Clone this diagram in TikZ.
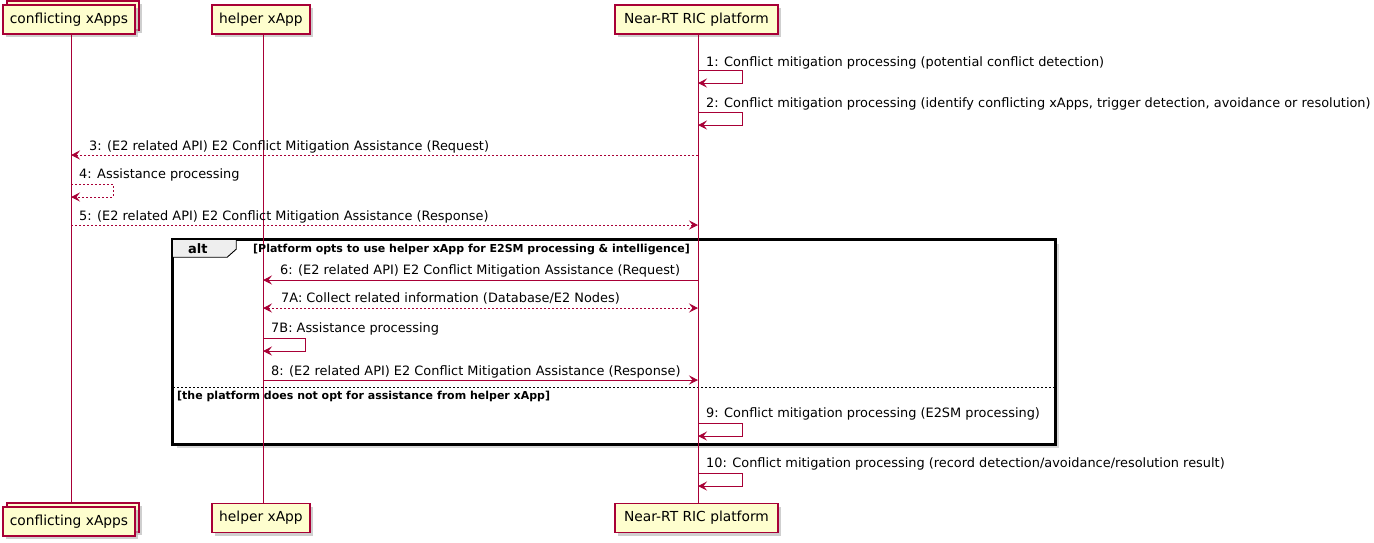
\documentclass[tikz,border=0pt]{standalone}
\usepackage{fontspec}
\setmainfont{DejaVu Sans}
\usetikzlibrary{arrows.meta,shadows}
\definecolor{plred}{HTML}{A80036}
\definecolor{plfill}{HTML}{FEFECE}
\definecolor{plshadow}{HTML}{BBBBBB}
\definecolor{altshadow}{HTML}{D9D9D9}
\definecolor{tabfill}{HTML}{EEEEEE}
\begin{document}
\begin{tikzpicture}[x=1pt,y=-1pt,
  part/.style={draw=plred, fill=plfill, line width=1.1pt, inner sep=0pt,
    minimum height=29pt, font=\fontsize{13.8}{16}\selectfont,
    drop shadow={shadow xshift=3pt, shadow yshift=-3pt, fill=plshadow, opacity=0.7}},
  life/.style={draw=plred, line width=0.8pt},
  msg/.style={draw=plred, line width=0.9pt, -{Stealth[length=9pt,width=9pt,inset=3.5pt]}},
  reply/.style={msg, dash pattern=on 2pt off 2pt},
  both/.style={reply, {Stealth[length=9pt,width=9pt,inset=3.5pt]}-{Stealth[length=9pt,width=9pt,inset=3.5pt]}},
  lbl/.style={anchor=base west, inner sep=0pt, font=\fontsize{12.9}{15}\selectfont},
  guard/.style={anchor=base west, inner sep=0pt, font=\bfseries\fontsize{11}{13}\selectfont},
]
\useasboundingbox (0,0) rectangle (1374,542);

% alt frame (drawn first so lifelines cross it)
\node[draw=black, line width=1.6pt, fill=white, minimum width=882pt, minimum height=204pt, inner sep=0pt,
  drop shadow={shadow xshift=4pt, shadow yshift=-4pt, fill=altshadow, opacity=1}] (alt) at (614,342) {};
\draw[line width=0.9pt, fill=tabfill] (alt.north west) -- ++(64,0) -- ++(0,10) -- ++(-9,8) -- ++(-55,0) -- cycle;
\draw[line width=1.6pt] (alt.north west) rectangle (alt.south east);
\node[anchor=base west, inner sep=0pt, font=\bfseries\fontsize{13}{15}\selectfont] (altlbl) at (188,253) {alt};
\coordinate (sepL) at (173,387); \coordinate (sepR) at (1055,387);
\draw[line width=0.6pt, dash pattern=on 2pt off 2pt] (sepL) -- (sepR);

% participants (top)
\node[part, minimum width=132pt] (cAtb) at (73,15.5) {};
\node[part, minimum width=132pt] (cAt) at (69,19.5) {conflicting xApps};
\node[part, minimum width=98pt] (hXt) at (261,19.5) {helper xApp};
\node[part, minimum width=163pt] (rCt) at (696.5,19.5) {Near-RT RIC platform};
% participants (bottom)
\node[part, minimum width=132pt] (cAbb) at (73,517.5) {};
\node[part, minimum width=132pt] (cAb) at (69,521.5) {conflicting xApps};
\node[part, minimum width=98pt] (hXb) at (261,518) {helper xApp};
\node[part, minimum width=163pt] (rCb) at (696.5,518) {Near-RT RIC platform};

% lifelines
\coordinate (LA1) at (71,34);  \coordinate (LA2) at (71,503);
\coordinate (LH1) at (263,34); \coordinate (LH2) at (263,503);
\coordinate (LR1) at (698,34); \coordinate (LR2) at (698,503);
\draw[life] (LA1) -- (LA2);
\draw[life] (LH1) -- (LH2);
\draw[life] (LR1) -- (LR2);

% guards
\node[guard] (g1) at (253,252) {[Platform opts to use helper xApp for E2SM processing \& intelligence]};
\node[guard] (g2) at (177,399) {[the platform does not opt for assistance from helper xApp]};

% 1
\node[lbl] (t1) at (706,66) {1: Conflict mitigation processing (potential conflict detection)};
\coordinate (m1a) at (698,70); \coordinate (m1b) at (742,70); \coordinate (m1c) at (742,83); \coordinate (m1d) at (698,83);
\draw[msg] (m1a) -- (m1b) -- (m1c) -- (m1d);
% 2
\node[lbl] (t2) at (706,107) {2: Conflict mitigation processing (identify conflicting xApps, trigger detection, avoidance or resolution)};
\coordinate (m2a) at (698,112); \coordinate (m2b) at (742,112); \coordinate (m2c) at (742,125); \coordinate (m2d) at (698,125);
\draw[msg] (m2a) -- (m2b) -- (m2c) -- (m2d);
% 3
\node[lbl] (t3) at (89,150) {3: (E2 related API) E2 Conflict Mitigation Assistance (Request)};
\coordinate (m3a) at (698,155); \coordinate (m3b) at (71,155);
\draw[reply] (m3a) -- (m3b);
% 4
\node[lbl] (t4) at (79,178) {4: Assistance processing};
\coordinate (m4a) at (71,184); \coordinate (m4b) at (113,184); \coordinate (m4c) at (113,197); \coordinate (m4d) at (71,197);
\draw[reply] (m4a) -- (m4b) -- (m4c) -- (m4d);
% 5
\node[lbl] (t5) at (79,220) {5: (E2 related API) E2 Conflict Mitigation Assistance (Response)};
\coordinate (m5a) at (71,225); \coordinate (m5b) at (698,225);
\draw[reply] (m5a) -- (m5b);
% 6
\node[lbl] (t6) at (280,274) {6: (E2 related API) E2 Conflict Mitigation Assistance (Request)};
\coordinate (m6a) at (698,280); \coordinate (m6b) at (263,280);
\draw[msg] (m6a) -- (m6b);
% 7A
\node[lbl] (t7a) at (281,302) {7A: Collect related information (Database/E2 Nodes)};
\coordinate (m7a) at (263,308); \coordinate (m7b) at (698,308);
\draw[both] (m7a) -- (m7b);
% 7B
\node[lbl] (t7b) at (271,332) {7B: Assistance processing};
\coordinate (m8a) at (263,338); \coordinate (m8b) at (305,338); \coordinate (m8c) at (305,351); \coordinate (m8d) at (263,351);
\draw[msg] (m8a) -- (m8b) -- (m8c) -- (m8d);
% 8
\node[lbl] (t8) at (271,375) {8: (E2 related API) E2 Conflict Mitigation Assistance (Response)};
\coordinate (m9a) at (263,380); \coordinate (m9b) at (698,380);
\draw[msg] (m9a) -- (m9b);
% 9
\node[lbl] (t9) at (706,417) {9: Conflict mitigation processing (E2SM processing)};
\coordinate (mAa) at (698,423); \coordinate (mAb) at (742,423); \coordinate (mAc) at (742,436); \coordinate (mAd) at (698,436);
\draw[msg] (mAa) -- (mAb) -- (mAc) -- (mAd);
% 10
\node[lbl] (t10) at (706,467) {10: Conflict mitigation processing (record detection/avoidance/resolution result)};
\coordinate (mBa) at (698,473); \coordinate (mBb) at (742,473); \coordinate (mBc) at (742,486); \coordinate (mBd) at (698,486);
\draw[msg] (mBa) -- (mBb) -- (mBc) -- (mBd);
\end{tikzpicture}
\end{document}
